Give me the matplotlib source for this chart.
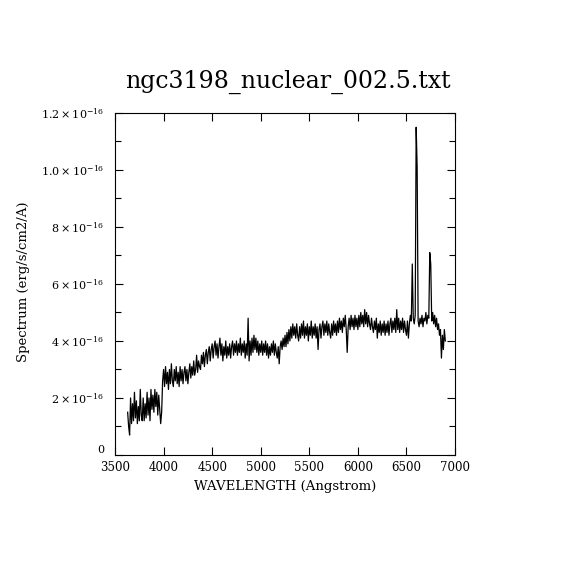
import numpy as np
import matplotlib
matplotlib.use("Agg")
import matplotlib.pyplot as plt
from matplotlib.ticker import MultipleLocator

plt.rcParams['font.family'] = ['DejaVu Serif']
plt.rcParams['mathtext.fontset'] = 'dejavuserif'

# spectrum, flux in units of 1e-16 erg/s/cm2/A, 10 A sampling from 3630 A
wl_start = 3630
wl_step = 10
flux = [
    0.15, 0.10, 0.07, 0.20, 0.11, 0.18, 0.12, 0.22, 0.13, 0.19,  # 3630
    0.11, 0.17, 0.12, 0.23, 0.14, 0.12, 0.20, 0.12, 0.18, 0.13,  # 3730
    0.22, 0.14, 0.20, 0.12, 0.23, 0.16, 0.21, 0.15, 0.23, 0.17,  # 3830
    0.22, 0.14, 0.21, 0.16, 0.11, 0.15, 0.26, 0.30, 0.24, 0.31,  # 3930
    0.25, 0.29, 0.23, 0.30, 0.25, 0.32, 0.26, 0.24, 0.30, 0.26,  # 4030
    0.31, 0.25, 0.29, 0.24, 0.31, 0.26, 0.30, 0.25, 0.29, 0.31,  # 4130
    0.26, 0.30, 0.25, 0.29, 0.32, 0.27, 0.31, 0.28, 0.33, 0.28,  # 4230
    0.30, 0.35, 0.29, 0.33, 0.31, 0.30, 0.35, 0.32, 0.36, 0.31,  # 4330
    0.35, 0.37, 0.32, 0.36, 0.38, 0.33, 0.37, 0.39, 0.34, 0.38,  # 4430
    0.40, 0.35, 0.39, 0.34, 0.38, 0.41, 0.35, 0.39, 0.33, 0.38,  # 4530
    0.35, 0.40, 0.34, 0.38, 0.35, 0.39, 0.34, 0.38, 0.40, 0.35,  # 4630
    0.39, 0.36, 0.40, 0.35, 0.39, 0.36, 0.41, 0.35, 0.39, 0.36,  # 4730
    0.40, 0.34, 0.39, 0.35, 0.48, 0.33, 0.40, 0.35, 0.41, 0.36,  # 4830
    0.42, 0.37, 0.41, 0.36, 0.40, 0.35, 0.39, 0.36, 0.40, 0.35,  # 4930
    0.39, 0.36, 0.40, 0.35, 0.39, 0.34, 0.38, 0.35, 0.39, 0.36,  # 5030
    0.40, 0.35, 0.39, 0.36, 0.34, 0.38, 0.32, 0.38, 0.40, 0.37,  # 5130
    0.41, 0.38, 0.42, 0.38, 0.43, 0.39, 0.44, 0.40, 0.45, 0.41,  # 5230
    0.46, 0.42, 0.45, 0.41, 0.46, 0.42, 0.40, 0.45, 0.41, 0.46,  # 5330
    0.42, 0.47, 0.41, 0.45, 0.42, 0.46, 0.40, 0.45, 0.42, 0.47,  # 5430
    0.41, 0.45, 0.42, 0.46, 0.41, 0.45, 0.37, 0.44, 0.46, 0.41,  # 5530
    0.45, 0.47, 0.42, 0.46, 0.43, 0.47, 0.42, 0.46, 0.43, 0.41,  # 5630
    0.46, 0.42, 0.47, 0.43, 0.46, 0.42, 0.47, 0.43, 0.48, 0.44,  # 5730
    0.47, 0.43, 0.48, 0.45, 0.49, 0.44, 0.36, 0.45, 0.48, 0.44,  # 5830
    0.49, 0.45, 0.48, 0.44, 0.49, 0.45, 0.48, 0.44, 0.49, 0.45,  # 5930
    0.50, 0.46, 0.49, 0.45, 0.51, 0.46, 0.50, 0.45, 0.49, 0.46,  # 6030
    0.44, 0.48, 0.45, 0.43, 0.47, 0.44, 0.48, 0.41, 0.46, 0.43,  # 6130
    0.47, 0.42, 0.46, 0.43, 0.47, 0.42, 0.46, 0.43, 0.47, 0.42,  # 6230
    0.46, 0.48, 0.43, 0.47, 0.44, 0.48, 0.43, 0.51, 0.44, 0.48,  # 6330
    0.43, 0.47, 0.44, 0.48, 0.43, 0.47, 0.44, 0.42, 0.47, 0.41,  # 6430
    0.46, 0.49, 0.47, 0.67, 0.48, 0.46, 0.49, 1.15, 1.01, 0.47,  # 6530
    0.45, 0.48, 0.46, 0.49, 0.45, 0.48, 0.47, 0.50, 0.46, 0.49,  # 6630
    0.48, 0.71, 0.67, 0.47, 0.50, 0.46, 0.49, 0.45, 0.48, 0.44,  # 6730
    0.46, 0.42, 0.44, 0.34, 0.42, 0.37, 0.44, 0.40,              # 6830
]

ytick_vals = [0, 0.2, 0.4, 0.6, 0.8, 1.0, 1.2]
ytick_labels = ["0", r"$2\times10^{-16}$", r"$4\times10^{-16}$", r"$6\times10^{-16}$",
                r"$8\times10^{-16}$", r"$1.0\times10^{-16}$", r"$1.2\times10^{-16}$"]
xtick_vals = [3500, 4000, 4500, 5000, 5500, 6000, 6500, 7000]

wl = wl_start + wl_step * np.arange(len(flux))

fig = plt.figure(figsize=(5.7, 5.7), dpi=100)
ax = fig.add_axes([0.2018, 0.2018, 0.5965, 0.6])
ax.plot(wl, flux, color="black", lw=0.9)

ax.set_xlim(3500, 7000)
ax.set_ylim(0, 1.2)
ax.set_xticks(xtick_vals)
ax.set_xticklabels([str(v) for v in xtick_vals], fontsize=8.5)
ax.set_yticks(ytick_vals)
ax.set_yticklabels(ytick_labels, fontsize=8)
# the "0" sits just above the x labels, as in the original
ax.get_yticklabels()[0].set_verticalalignment("bottom")
ax.yaxis.set_minor_locator(MultipleLocator(0.1))
ax.tick_params(which="both", direction="in", top=True, right=True, width=0.8)
ax.tick_params(which="major", length=6)
ax.tick_params(which="minor", length=4)
ax.tick_params(axis="y", pad=8)
ax.tick_params(axis="x", pad=4)
for s in ax.spines.values():
    s.set_linewidth(0.8)

fig.text(0.505, 0.856, "ngc3198_nuclear_002.5.txt", ha="center", va="center", fontsize=17)
fig.text(0.5, 0.147, "WAVELENGTH (Angstrom)", ha="center", va="center", fontsize=9.5)
fig.text(0.042, 0.505, "Spectrum (erg/s/cm2/A)", ha="center", va="center",
         rotation=90, fontsize=9.5)

fig.savefig("out.png", dpi=100)
